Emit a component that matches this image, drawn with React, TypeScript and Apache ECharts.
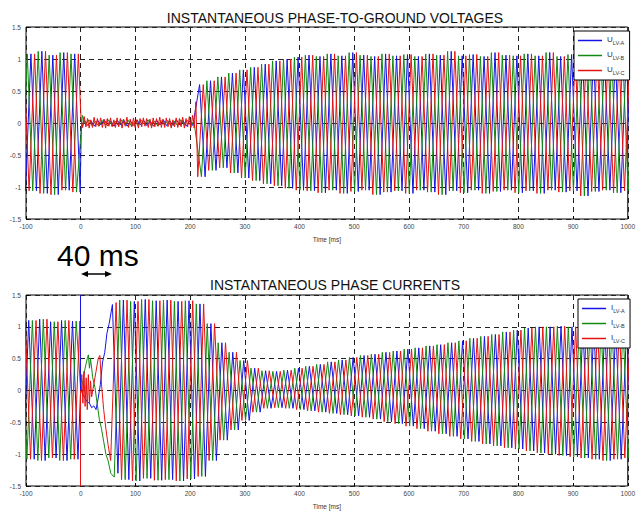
import React, { useEffect, useRef } from "react";
import * as echarts from "echarts";

// ---------- data ----------
const HALF_CYCLE_MS = 10; // 50 Hz
const ENVELOPE_STEP_MS = 20; // one envelope value per cycle

const phaseNames = ["A", "B", "C"];
const phaseColors = ["#1414e6", "#128a12", "#e81212"];

// Voltages: pre-fault (-100..0), envelope per cycle starting at -100
const voltPreUpper = [1.08, 1.12, 1.06, 1.1, 1.08];
const voltPreLower = [-1.06, -1.1, -1.12, -1.05, -1.08];
const voltPreFirstPeak = [-101, -107.67, -104.33];
const voltPreFirstSign = [-1, -1, 1];

// Voltages during the fault (0..210 ms): small noise samples
const voltFaultStart = [1, 3, 0.5];
const voltFaultStep = [6, 6, 3];
const voltFaultA = [-0.1, 0.04, -0.04, 0.03, -0.05, 0.04, -0.03, 0.05, -0.04, 0.03, -0.05, 0.04, -0.03, 0.04, -0.05, 0.03, -0.04, 0.05, -0.03, 0.04, -0.04, 0.03, -0.05, 0.04, -0.03, 0.05, -0.04, 0.03, -0.04, 0.05, -0.03, 0.04, -0.05, 0.03, -0.04];
const voltFaultB = [0.12, -0.03, 0.05, -0.04, 0.03, -0.05, 0.04, -0.03, 0.05, -0.04, 0.03, -0.04, 0.05, -0.03, 0.04, -0.05, 0.03, -0.04, 0.04, -0.03, 0.05, -0.04, 0.03, -0.05, 0.04, -0.03, 0.04, -0.05, 0.03, -0.04, 0.05, -0.03, 0.04, -0.04, 0.03];
const voltFaultC = [0.08, -0.07, 0.1, -0.06, 0.07, -0.08, 0.05, -0.07, 0.09, -0.06, 0.07, -0.05, 0.08, -0.07, 0.06, -0.08, 0.07, -0.05, 0.08, -0.06, 0.05, -0.07, 0.08, -0.06, 0.07, -0.08, 0.06, -0.05, 0.09, -0.07, 0.06, -0.06, 0.08, -0.07, 0.05, -0.08, 0.07, -0.06, 0.08, -0.05, 0.07, -0.07, 0.06, -0.08, 0.08, -0.06, 0.07, -0.05, 0.09, -0.07, 0.06, -0.07, 0.08, -0.06, 0.07, -0.08, 0.05, -0.06, 0.08, -0.07, 0.07, -0.06, 0.09, -0.08, 0.07, -0.06, 0.1, -0.07, 0.12, -0.08, 0.33];

// Voltages after recovery: envelope per cycle starting at 210 ms
const voltPostStart = 210;
const voltPostUpper = [0.6, 0.66, 0.72, 0.78, 0.83, 0.87, 0.92, 0.97, 1.0, 1.03,
  1.06, 1.04, 1.08, 1.05, 1.1, 1.06, 1.04, 1.08, 1.05, 1.07,
  1.04, 1.08, 1.06, 1.12, 1.05, 1.07, 1.04, 1.1, 1.06, 1.05,
  1.08, 1.05, 1.1, 1.04, 1.07, 1.05, 1.09, 1.06, 1.04, 1.07];
const voltPostLower = [-0.84, -0.74, -0.7, -0.78, -0.86, -0.9, -0.95, -0.98, -1.02, -1.05,
  -1.06, -1.09, -1.05, -1.1, -1.07, -1.05, -1.12, -1.08, -1.06, -1.1,
  -1.05, -1.08, -1.12, -1.06, -1.09, -1.05, -1.1, -1.07, -1.05, -1.09,
  -1.06, -1.1, -1.05, -1.08, -1.06, -1.14, -1.07, -1.05, -1.09, -1.06];
const voltPostFirstPeak = [217.33, 220.67, 214];
const voltPostFirstSign = [1, -1, -1];

// Currents: pre-fault
const currPreUpper = [1.1, 1.12, 1.08, 1.1, 1.09];
const currPreLower = [-1.08, -1.1, -1.06, -1.1, -1.08];
const currPreFirstPeak = [-105, -108.33, -101.67];
const currPreFirstSign = [-1, 1, 1];

// Currents: transient right after the fault (time ms, value)
const currTransA: [number, number][] = [[0, 0.05], [3, -0.05], [8, -0.12], [12, -0.18], [16, -0.2], [20, -0.27], [24, -0.24], [28, -0.3], [32, -0.12], [36, 0.1], [40, 0.45], [44, 0.6], [48, 0.9], [52, 1.05], [58, 1.35]];
const currTransB: [number, number][] = [[0, 0.0], [4, 0.15], [8, 0.35], [12, 0.5], [14, 0.56], [16, 0.35], [18, 0.5], [22, 0.2], [26, 0.05], [30, -0.2], [34, -0.45], [38, -0.6], [42, -0.8], [46, -1.0], [50, -1.1], [55, -1.3], [61.3, -1.36]];
const currTransC: [number, number][] = [[0, 0.0], [2, 0.25], [4, -0.2], [6, 0.3], [8, -0.25], [10, 0.2], [12, -0.3], [14, 0.25], [16, -0.2], [18, 0.15], [20, -0.1], [24, 0.1], [28, 0.3], [32, 0.5], [35, 0.55], [38, 0.1], [42, -0.3], [46, -0.6], [50, -0.85], [54.7, -1.1]];

// Currents after the transient: envelope per cycle starting at 50 ms
const currPostStart = 50;
const currPostUpper = [1.38, 1.42, 1.4, 1.43, 1.41, 1.42, 1.4, 1.41, 1.36,
  1.05, 0.75, 0.6, 0.47, 0.35, 0.31, 0.3, 0.32, 0.35,
  0.38, 0.41, 0.45, 0.48, 0.52, 0.55, 0.57, 0.6, 0.62, 0.65,
  0.67, 0.7, 0.72, 0.75, 0.78, 0.82, 0.85, 0.88, 0.92, 0.95,
  0.98, 1.0, 1.0, 1.01, 1.0, 1.0, 1.01, 1.0, 1.0, 1.0];
const currPostLower = [-1.3, -1.4, -1.42, -1.38, -1.41, -1.4, -1.42, -1.39, -1.35,
  -1.1, -0.78, -0.62, -0.47, -0.34, -0.28, -0.27, -0.28, -0.3,
  -0.32, -0.34, -0.36, -0.38, -0.4, -0.42, -0.45, -0.49, -0.52, -0.56,
  -0.6, -0.64, -0.68, -0.72, -0.76, -0.8, -0.84, -0.87, -0.9, -0.92,
  -0.95, -0.98, -1.0, -1.02, -1.04, -1.06, -1.08, -1.1, -1.08, -1.06];
const currPostFirstPeak = [68, 71.3, 64.7];
const currPostFirstSign = [-1, 1, 1];

const timeMin = -100;
const timeMax = 1000;
const faultTime = 0;

// ---------- builders ----------
type Pt = [number, number];

function peaks(firstT: number, firstSign: number, endT: number, envStart: number, upper: number[], lower: number[]): Pt[] {
  const pts: Pt[] = [];
  let sign = firstSign;
  for (let t = firstT; t < endT; t += HALF_CYCLE_MS) {
    const idx = Math.min(upper.length - 1, Math.max(0, Math.floor((t - envStart) / ENVELOPE_STEP_MS)));
    pts.push([Math.round(t * 100) / 100, sign > 0 ? upper[idx] : lower[idx]]);
    sign = -sign;
  }
  return pts;
}

function samples(start: number, step: number, values: number[]): Pt[] {
  return values.map((v, i) => [start + i * step, v] as Pt);
}

const voltFault = [voltFaultA, voltFaultB, voltFaultC];
const currTrans = [currTransA, currTransB, currTransC];

function voltageSeries(p: number): Pt[] {
  return [
    ...peaks(voltPreFirstPeak[p], voltPreFirstSign[p], faultTime, timeMin, voltPreUpper, voltPreLower),
    ...samples(voltFaultStart[p], voltFaultStep[p], voltFault[p]),
    ...peaks(voltPostFirstPeak[p], voltPostFirstSign[p], timeMax + 15, voltPostStart, voltPostUpper, voltPostLower),
  ];
}

function currentSeries(p: number): Pt[] {
  return [
    ...peaks(currPreFirstPeak[p], currPreFirstSign[p], faultTime, timeMin, currPreUpper, currPreLower),
    ...currTrans[p],
    ...peaks(currPostFirstPeak[p], currPostFirstSign[p], timeMax + 15, currPostStart, currPostUpper, currPostLower),
  ];
}

const FONT = "'Liberation Sans', Arial, Helvetica, sans-serif";

function makeAxes(gridIndex: number) {
  const x = {
    type: "value",
    gridIndex,
    min: timeMin,
    max: timeMax,
    interval: 100,
    name: "Time [ms]",
    nameLocation: "middle",
    nameGap: 17,
    nameTextStyle: { fontSize: 6.5, color: "#333", fontFamily: FONT },
    axisLine: { show: false, onZero: false },
    axisTick: { show: true, inside: true, length: 3, lineStyle: { color: "#000" } },
    axisLabel: { fontSize: 6.5, color: "#444", margin: 4, fontFamily: FONT, formatter: (v: number) => String(v) },
    splitLine: { show: true, lineStyle: { color: "#222", type: [5, 4], width: 1 } },
  };
  const y = {
    type: "value",
    gridIndex,
    min: -1.5,
    max: 1.5,
    interval: 0.5,
    axisLine: { show: false, onZero: false },
    axisTick: { show: true, inside: true, length: 3, lineStyle: { color: "#000" } },
    axisLabel: { fontSize: 6.5, color: "#444", margin: 5, fontFamily: FONT, formatter: (v: number) => String(v) },
    splitLine: { show: true, lineStyle: { color: "#222", type: [5, 4], width: 1 } },
  };
  return { x, y };
}

function legendFor(prefix: string, left: number, top: number) {
  return {
    data: phaseNames.map((n) => `${prefix}LV-${n}`),
    orient: "vertical",
    left,
    top,
    z: 20,
    padding: [4, 5, 4, 4],
    itemGap: 4,
    itemWidth: 24,
    itemHeight: 1.5,
    icon: "rect",
    backgroundColor: "#fff",
    borderColor: "#000",
    borderWidth: 1,
    borderRadius: 0,
    selectedMode: false,
    formatter: (name: string) => `{m|${prefix}}{s|${name.slice(prefix.length)}}`,
    textStyle: {
      color: "#333",
      fontFamily: FONT,
      rich: {
        m: { fontSize: 8, fontFamily: FONT, color: "#333", lineHeight: 11, verticalAlign: "top" },
        s: { fontSize: 5.5, fontFamily: FONT, color: "#333", lineHeight: 11, verticalAlign: "bottom", padding: [3, 0, 0, 0] },
      },
    },
  };
}

export default function App() {
  const ref = useRef<HTMLDivElement>(null);
  useEffect(() => {
    if (!ref.current) return;
    const chart = echarts.init(ref.current, undefined, { renderer: "svg" });
    const a0 = makeAxes(0);
    const a1 = makeAxes(1);
    const series: any[] = [];
    phaseNames.forEach((n, p) => {
      series.push({
        name: `ULV-${n}`,
        type: "line",
        xAxisIndex: 0,
        yAxisIndex: 0,
        data: voltageSeries(p),
        showSymbol: false,
        symbol: "none",
        lineStyle: { width: 1, color: phaseColors[p] },
        itemStyle: { color: phaseColors[p] },
        z: 2,
        zlevel: 0,
      });
    });
    phaseNames.forEach((n, p) => {
      const s: any = {
        name: `ILV-${n}`,
        type: "line",
        xAxisIndex: 1,
        yAxisIndex: 1,
        data: currentSeries(p),
        showSymbol: false,
        symbol: "none",
        lineStyle: { width: 1, color: phaseColors[p] },
        itemStyle: { color: phaseColors[p] },
        z: 2,
        zlevel: 0,
      };
      if (p === 0) {
        s.markLine = {
          silent: true,
          symbol: "none",
          label: { show: false },
          lineStyle: { color: phaseColors[0], width: 1, type: "solid" },
          data: [[{ coord: [faultTime, 1.5] }, { coord: [faultTime, 0] }]],
        };
      }
      if (p === 2) {
        s.markLine = {
          silent: true,
          symbol: "none",
          label: { show: false },
          lineStyle: { color: phaseColors[2], width: 1, type: "solid" },
          data: [[{ coord: [faultTime, 0] }, { coord: [faultTime, -1.5] }]],
        };
      }
      series.push(s);
    });

    chart.setOption({
      animation: false,
      backgroundColor: "#fff",
      textStyle: { fontFamily: FONT },
      title: [
        { text: "INSTANTANEOUS PHASE-TO-GROUND VOLTAGES", left: 330, top: 6, textAlign: "center", textStyle: { fontSize: 14, fontWeight: "normal", color: "#111", fontFamily: FONT } },
        { text: "INSTANTANEOUS PHASE CURRENTS", left: 330, top: 273, textAlign: "center", textStyle: { fontSize: 14, fontWeight: "normal", color: "#111", fontFamily: FONT } },
      ],
      grid: [
        { left: 26, top: 27, width: 608, height: 192, show: true, borderColor: "#000", borderWidth: 1, backgroundColor: "transparent" },
        { left: 26, top: 295, width: 608, height: 192, show: true, borderColor: "#000", borderWidth: 1, backgroundColor: "transparent" },
      ],
      xAxis: [a0.x, a1.x],
      yAxis: [a0.y, a1.y],
      legend: [legendFor("U", 574, 31), legendFor("I", 578, 299)],
      series,
      graphic: [
        { type: "text", left: 57, top: 240, style: { text: "40 ms", fontSize: 30, fontFamily: FONT, fill: "#000" } },
        { type: "line", shape: { x1: 84, y1: 274, x2: 109, y2: 274 }, style: { stroke: "#000", lineWidth: 1.5 } },
        { type: "polygon", shape: { points: [[81, 274], [88, 271], [88, 277]] }, style: { fill: "#000" } },
        { type: "polygon", shape: { points: [[112, 274], [105, 271], [105, 277]] }, style: { fill: "#000" } },
      ],
    });
    return () => chart.dispose();
  }, []);
  return <div ref={ref} style={{ position: "fixed", left: 0, top: 0, width: 638, height: 511 }} />;
}
